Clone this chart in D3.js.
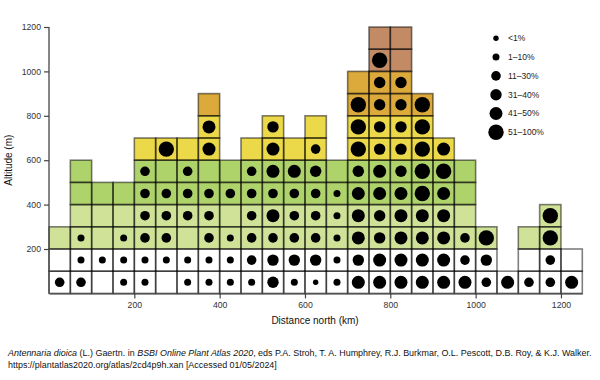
<!DOCTYPE html>
<html>
<head>
<meta charset="utf-8">
<script src="https://cdn.jsdelivr.net/npm/d3@7"></script>
<style>
  html, body { margin: 0; padding: 0; background: #fff; }
  svg { display: block; font-family: Arial, "Liberation Sans", sans-serif; }
</style>
</head>
<body>
<svg id="chart" width="600" height="380"></svg>
<script>
// ---- Data ----
const columnStartKm = [0,50,100,150,200,250,300,350,400,450,500,550,600,650,700,750,800,850,900,950,1000,1050,1100,1150,1200];
const bandStartM = [0,100,200,300,400,500,600,700,800,900,1000,1100];
// For each 50 km column: one entry per 100 m band present (bottom up).
// Number = occupancy class index (into legendLabels); null = surveyed cell with no record.
const occupancy = [
  [2, null, null],
  [2, 1, 1, null, null, null],
  [null, 1, null, null, null],
  [1, 1, 1, null, null],
  [1, 1, 2, 2, 2, 2, null],
  [null, 1, 2, 2, 2, null, 5],
  [1, 1, null, 2, 2, 2, null],
  [1, 1, 2, 2, 2, null, 4, 4, null],
  [1, 1, 1, null, 2, null],
  [1, 2, 2, 2, 2, 2, null],
  [3, 3, 2, 4, 2, 4, 4, 3],
  [1, 3, 2, 2, 2, 4, null],
  [0, 3, 2, 2, 2, 3, 2, null],
  [1, 1, 1, 1, 1, null],
  [4, 3, 4, 4, 4, 3, 5, 5, 5, null],
  [4, 4, 3, 3, 4, 4, 3, 3, 3, 3, 5, null],
  [4, 4, 4, 4, 4, 3, 3, 3, 3, 3, null, null],
  [4, 4, 4, 4, 5, 5, 5, 5, 5],
  [4, 4, 4, 4, 4, 5, 4],
  [4, 2, 2, null, null, null],
  [2, 3, 5],
  [4],
  [2, null, null],
  [2, 2, 5, 5],
  [4, null]
];
const legendLabels = ["<1%", "1\u201310%", "11\u201330%", "31\u201340%", "41\u201350%", "51\u2013100%"];
const xTicks = [200, 400, 600, 800, 1000, 1200];
const yTicks = [200, 400, 600, 800, 1000, 1200];

// ---- Styles ----
const bandColours = ["#ffffff","#ffffff","#cfe297","#cfe297","#afd36b","#afd36b","#ecd94a","#ecd94a","#dca93b","#dca93b","#c28b66","#c28b66"];
const dotRadii = [2.7, 3.5, 4.8, 5.7, 6.5, 7.7];

const svg = d3.select("#chart");
const x = d3.scaleLinear().domain([0, 1250]).range([49, 582.3]);
const y = d3.scaleLinear().domain([0, 1200]).range([293.4, 27]);
const r = d3.scaleOrdinal().domain(d3.range(legendLabels.length)).range(dotRadii);
const colour = d3.scaleOrdinal().domain(bandStartM).range(bandColours);

const cells = [];
occupancy.forEach((col, i) => {
  col.forEach((v, j) => {
    cells.push({ km: columnStartKm[i], m: bandStartM[j], v: v });
  });
});

const g = svg.append("g");
g.selectAll("rect.cell").data(cells).join("rect")
  .attr("class", "cell")
  .attr("x", d => x(d.km))
  .attr("y", d => y(d.m + 100))
  .attr("width", d => x(d.km + 50) - x(d.km))
  .attr("height", d => y(d.m) - y(d.m + 100))
  .attr("fill", d => colour(d.m));

g.selectAll("rect.edge").data(cells).join("rect")
  .attr("class", "edge")
  .attr("x", d => x(d.km))
  .attr("y", d => y(d.m + 100))
  .attr("width", d => x(d.km + 50) - x(d.km))
  .attr("height", d => y(d.m) - y(d.m + 100))
  .attr("fill", "none")
  .attr("stroke", "#000")
  .attr("stroke-opacity", 0.5)
  .attr("stroke-width", 1.6);

g.selectAll("circle.dot").data(cells.filter(d => d.v !== null)).join("circle")
  .attr("class", "dot")
  .attr("cx", d => x(d.km + 25))
  .attr("cy", d => y(d.m + 50))
  .attr("r", d => r(d.v))
  .attr("fill", "#000");

// Axes
const axisColour = "#444";
const fmt = d3.format("d");
const xAxis = svg.append("g").attr("transform", `translate(0,${y(0)})`)
  .call(d3.axisBottom(x).tickValues(xTicks).tickFormat(fmt).tickSize(5).tickSizeOuter(0));
const yAxis = svg.append("g").attr("transform", `translate(${x(0)},0)`)
  .call(d3.axisLeft(y).tickValues(yTicks).tickFormat(fmt).tickSize(5).tickSizeOuter(0));
[xAxis, yAxis].forEach(a => {
  a.select(".domain").attr("stroke", axisColour).attr("stroke-width", 1.3);
  a.selectAll(".tick line").attr("stroke", axisColour).attr("stroke-width", 1.2);
  a.selectAll(".tick text").attr("fill", "#333").style("font-size", "8.7px")
    .style("font-family", "Arial, 'Liberation Sans', sans-serif");
});
yAxis.select(".domain").attr("d", `M0,${y(0)}V${y(1200)}`);

svg.append("text")
  .attr("transform", `translate(9,${y(600)}) rotate(-90)`)
  .attr("text-anchor", "middle").attr("dominant-baseline", "middle")
  .style("font-size", "10px").attr("fill", "#111")
  .text("Altitude (m)");
svg.append("text")
  .attr("x", 315).attr("y", 324)
  .attr("text-anchor", "middle")
  .style("font-size", "10px").attr("fill", "#111")
  .text("Distance north (km)");

// Legend
const leg = svg.append("g").selectAll("g").data(legendLabels).join("g")
  .attr("transform", (d, i) => `translate(496,${38.3 + i * 18.8})`);
leg.append("circle").attr("r", (d, i) => r(i)).attr("fill", "#000");
leg.append("text").attr("x", 12).attr("dy", "0.35em")
  .style("font-size", "8.5px").attr("fill", "#222").text(d => d);

// Caption
const cap = svg.append("text").attr("x", 8).attr("y", 356).style("font-size", "8.95px").attr("fill", "#111");
cap.append("tspan").style("font-style", "italic").text("Antennaria dioica");
cap.append("tspan").text(" (L.) Gaertn. in ");
cap.append("tspan").style("font-style", "italic").text("BSBI Online Plant Atlas 2020");
cap.append("tspan").text(", eds P.A. Stroh, T. A. Humphrey, R.J. Burkmar, O.L. Pescott, D.B. Roy, & K.J. Walker.");
svg.append("text").attr("x", 8).attr("y", 368).style("font-size", "8.95px").attr("fill", "#111")
  .text("https://plantatlas2020.org/atlas/2cd4p9h.xan [Accessed 01/05/2024]");
</script>
</body>
</html>
